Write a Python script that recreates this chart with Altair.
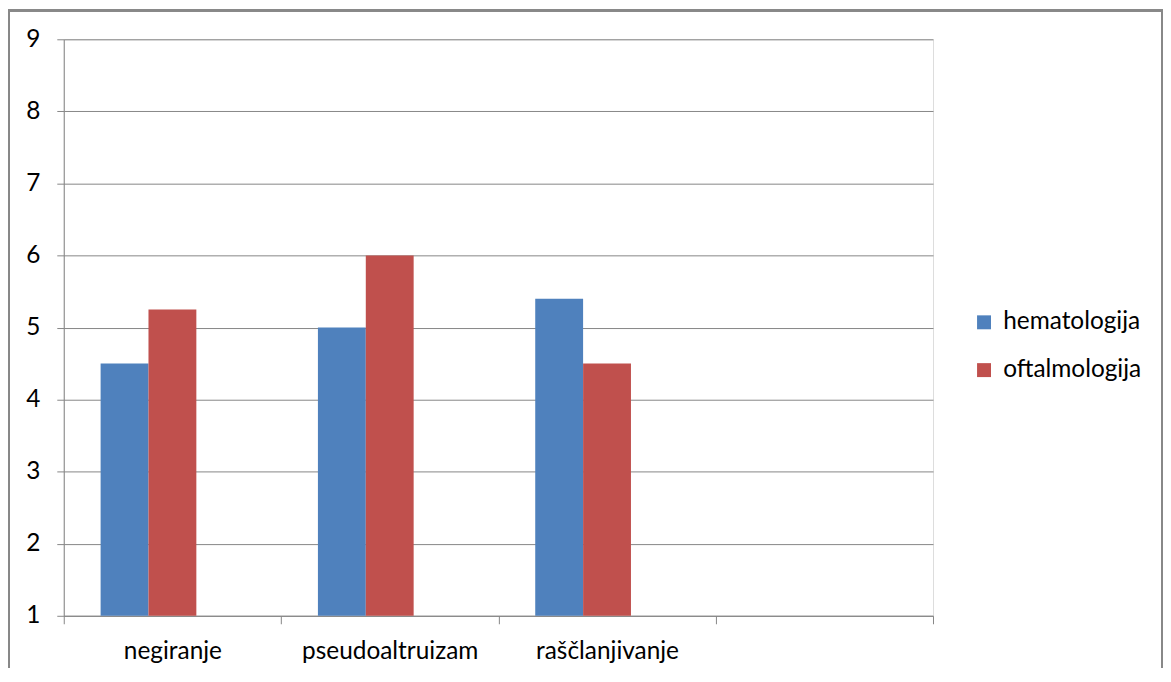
import altair as alt
import pandas as pd

categories = ["negiranje", "pseudoaltruizam", "raščlanjivanje", " "]
series = ["hematologija", "oftalmologija"]
hematologija = [4.5, 5.0, 5.4]
oftalmologija = [5.25, 6.0, 4.5]
y_ticks = [1, 2, 3, 4, 5, 6, 7, 8, 9]

rows = []
for i, c in enumerate(categories[:3]):
    rows.append({"kategorija": c, "serija": series[0], "vrijednost": hematologija[i]})
    rows.append({"kategorija": c, "serija": series[1], "vrijednost": oftalmologija[i]})
df = pd.DataFrame(rows)

GRAY = "#868686"
FONT = "Lato"
FS = 24.5

bars = alt.Chart(df).mark_bar().encode(
    x=alt.X(
        "kategorija:N",
        sort=categories,
        scale=alt.Scale(domain=categories, paddingInner=0, paddingOuter=0),
        axis=alt.Axis(
            title=None, labelAngle=0, tickBand="extent", grid=False,
            domainColor=GRAY, tickColor=GRAY, tickSize=8, labelPadding=16,
            labelFontSize=FS, labelFont=FONT, labelColor="#000000",
        ),
    ),
    xOffset=alt.XOffset(
        "serija:N",
        scale=alt.Scale(domain=series + ["_"], paddingInner=0, paddingOuter=0.77),
    ),
    y=alt.Y(
        "vrijednost:Q",
        scale=alt.Scale(domain=[1, 9], zero=False, nice=False),
        axis=alt.Axis(
            title=None, values=y_ticks, grid=True, gridColor=GRAY,
            domainColor=GRAY, tickColor=GRAY, tickSize=7, labelPadding=17,
            labelFontSize=FS, labelFont=FONT, labelColor="#000000",
        ),
    ),
    y2=alt.datum(1),
    color=alt.Color(
        "serija:N",
        scale=alt.Scale(domain=series, range=["#4F81BD", "#C0504D"]),
        legend=alt.Legend(
            title=None, orient="none", legendX=912, legendY=272,
            symbolType="square", symbolSize=196, symbolStrokeWidth=0,
            labelFontSize=FS, labelFont=FONT, labelColor="#000000",
            rowPadding=23, labelOffset=7,
        ),
    ),
)

frame = alt.Chart(df).mark_rect(filled=False, stroke="#888888", strokeWidth=2).encode(
    x=alt.value(-55), x2=alt.value(1103), y=alt.value(-29), y2=alt.value(700)
)

chart = alt.layer(bars, frame).properties(
    width=873, height=579,
    autosize=alt.AutoSizeParams(type="none"),
    padding={"left": 56, "top": 30, "right": 231, "bottom": 51},
).configure_view(stroke=None).configure(font=FONT)

chart.save("out.html", embed_options={"renderer": "svg", "actions": False})
